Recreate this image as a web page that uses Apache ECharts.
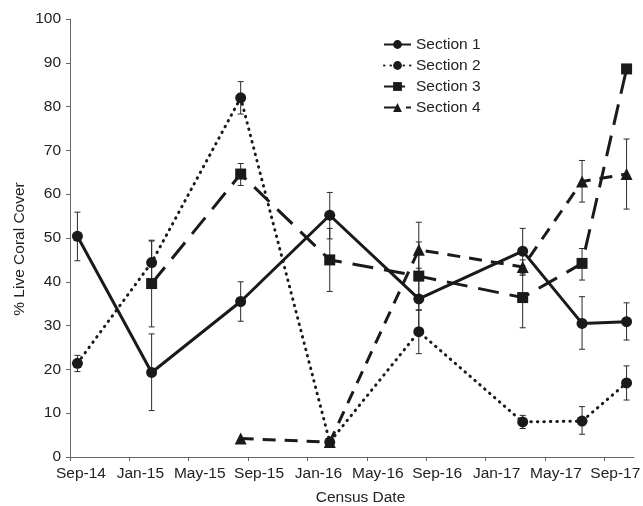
<!DOCTYPE html>
<html>
<head>
<meta charset="utf-8">
<script src="https://cdn.jsdelivr.net/npm/echarts@6/dist/echarts.min.js"></script>
<style>
html,body{margin:0;padding:0;background:#fff;}
#c{width:643px;height:506px;}
</style>
</head>
<body>
<div id="c"></div>
<script>
// Census dates, as months since Sep 2014
const censusMonths = [0.5, 5.5, 11.5, 17.5, 23.5, 30.5, 34.5, 37.5];
const tickLabels = ['Sep-14','Jan-15','May-15','Sep-15','Jan-16','May-16','Sep-16','Jan-17','May-17','Sep-17'];
const tickStepMonths = 4;

const section1 = [50.4, 19.3, 35.5, 55.2, 36.1, 47.0, 30.5, 30.9];
const section1Low = [44.8, 10.6, 31.0, 49.8, 29.1, 41.8, 24.6, 26.7];
const section1High = [55.9, 28.1, 40.0, 60.4, 43.1, 52.2, 36.6, 35.2];

const section2 = [21.4, 44.4, 82.0, 3.4, 28.6, 8.0, 8.2, 16.9];
const section2Low = [19.5, 39.5, 78.3, 2.6, 23.6, 6.5, 5.2, 13.0];
const section2High = [23.2, 49.3, 85.7, 4.2, 33.6, 9.5, 11.5, 20.8];

const section3 = [null, 39.6, 64.6, 45.0, 41.3, 36.4, 44.2, 88.6];
const section3Low = [null, 29.7, 62.0, 37.8, 33.5, 29.5, 40.4, null];
const section3High = [null, 49.5, 67.0, 52.2, 49.1, 43.3, 47.6, null];

const section4 = [null, null, 4.2, 3.4, 47.3, 43.4, 62.9, 64.6];
const section4Low = [null, null, null, null, 41.0, 41.5, 58.2, 56.6];
const section4High = [null, null, null, null, 53.6, 45.0, 67.7, 72.6];

const FONT = 'Liberation Sans, Arial, sans-serif';
const INK = '#1a1a1a';

function pts(vals) {
  const out = [];
  vals.forEach((v, i) => { if (v !== null) out.push([censusMonths[i], v]); });
  return out;
}
function errs(lo, hi) {
  const out = [];
  lo.forEach((v, i) => { if (v !== null && hi[i] !== null) out.push([censusMonths[i], v, hi[i]]); });
  return out;
}
function errSeries(lo, hi) {
  return {
    type: 'custom',
    silent: true,
    z: 1,
    data: errs(lo, hi),
    encode: { x: 0, y: [1, 2] },
    renderItem: function (params, api) {
      const x = api.value(0);
      const a = api.coord([x, api.value(1)]);
      const b = api.coord([x, api.value(2)]);
      const w = 3;
      const st = { stroke: '#2a2a2a', lineWidth: 1 };
      return {
        type: 'group',
        children: [
          { type: 'line', shape: { x1: a[0], y1: a[1], x2: b[0], y2: b[1] }, style: st },
          { type: 'line', shape: { x1: a[0] - w, y1: a[1], x2: a[0] + w, y2: a[1] }, style: st },
          { type: 'line', shape: { x1: b[0] - w, y1: b[1], x2: b[0] + w, y2: b[1] }, style: st }
        ]
      };
    }
  };
}

const tickValues = tickLabels.map((_, i) => i * tickStepMonths);

const chart = echarts.init(document.getElementById('c'), null, { renderer: 'canvas' });
chart.setOption({
  animation: false,
  backgroundColor: '#fff',
  textStyle: { fontFamily: FONT },
  grid: { left: 70, right: 9, top: 19, bottom: 49, containLabel: false, outerBoundsMode: 'none' },
  legend: {
    orient: 'vertical',
    left: 378,
    top: 31,
    itemWidth: 27,
    itemHeight: 11,
    itemGap: 4,
    textStyle: { fontFamily: FONT, fontSize: 15.5, color: '#222', lineHeight: 17 },
    data: ['Section 1', 'Section 2', 'Section 3', 'Section 4']
  },
  xAxis: {
    type: 'value',
    min: 0,
    max: 38,
    interval: tickStepMonths,
    name: 'Census Date',
    nameLocation: 'middle',
    nameGap: 33,
    nameMoveOverlap: false,
    nameTextStyle: { fontFamily: FONT, fontSize: 15.5, color: '#222', padding: [0, 0, 0, 17] },
    axisLine: { lineStyle: { color: '#666', width: 1 } },
    axisTick: { show: true, length: 4, lineStyle: { color: '#666' }, customValues: tickValues },
    axisLabel: {
      customValues: tickValues,
      fontFamily: FONT, fontSize: 15.5, color: '#222', margin: 9,
      padding: [0, 0, 0, 22],
      formatter: function (v) { const i = Math.round(v / tickStepMonths); return tickLabels[i] || ''; }
    },
    splitLine: { show: false }
  },
  yAxis: {
    type: 'value',
    min: 0,
    max: 100,
    interval: 10,
    name: '% Live Coral Cover',
    nameLocation: 'middle',
    nameGap: 42,
    nameMoveOverlap: false,
    nameRotate: 90,
    nameTextStyle: { fontFamily: FONT, fontSize: 15.5, color: '#222', padding: [0, 22, 0, 0] },
    axisLine: { show: true, lineStyle: { color: '#666', width: 1 } },
    axisTick: { show: true, length: 4, lineStyle: { color: '#666' } },
    axisLabel: { fontFamily: FONT, fontSize: 15.5, color: '#222', margin: 9 },
    splitLine: { show: false }
  },
  series: [
    errSeries(section1Low, section1High),
    errSeries(section2Low, section2High),
    errSeries(section3Low, section3High),
    errSeries(section4Low, section4High),
    {
      name: 'Section 1', type: 'line', z: 3,
      data: pts(section1),
      symbol: 'circle', symbolSize: 11,
      itemStyle: { color: INK },
      lineStyle: { color: INK, width: 3, type: 'solid' }
    },
    {
      name: 'Section 2', type: 'line', z: 3,
      data: pts(section2),
      symbol: 'circle', symbolSize: 11,
      itemStyle: { color: INK },
      lineStyle: { color: INK, width: 3, type: [0.5, 6], cap: 'round' }
    },
    {
      name: 'Section 3', type: 'line', z: 3,
      data: pts(section3),
      symbol: 'rect', symbolSize: 11,
      itemStyle: { color: INK },
      lineStyle: { color: INK, width: 3, type: [21, 11] }
    },
    {
      name: 'Section 4', type: 'line', z: 3,
      data: pts(section4),
      symbol: 'triangle', symbolSize: 12,
      itemStyle: { color: INK },
      lineStyle: { color: INK, width: 3, type: [13, 9] }
    }
  ]
});
</script>
</body>
</html>
